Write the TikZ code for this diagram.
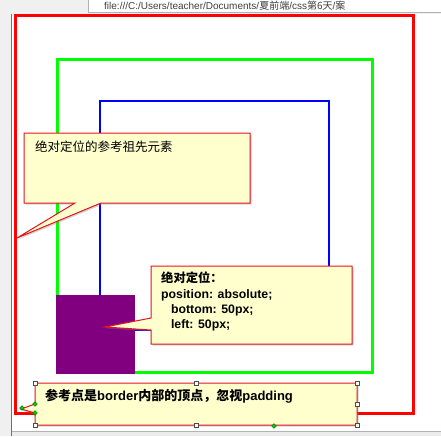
\documentclass[tikz,border=0pt]{standalone}
\usepackage{fontspec}
\setmainfont{Liberation Sans}
\newfontfamily\cjk{Noto Sans CJK SC}
\usetikzlibrary{positioning,shapes.geometric,shadows}

\definecolor{noteyellow}{RGB}{255,255,206}
\definecolor{notered}{RGB}{226,20,30}
\definecolor{boxpurple}{RGB}{128,0,128}
\definecolor{chromeline}{RGB}{96,112,152}

\newcommand\zh[1]{{\cjk #1}}

\tikzset{
    note/.style={draw=notered, fill=noteyellow, line width=1pt, line join=miter,
        drop shadow={shadow xshift=1.5pt, shadow yshift=-1.5pt, opacity=0.35}},
    notetext/.style={anchor=north west, inner sep=0pt, align=left},
    handle/.style={rectangle, draw=black!70, fill=white, minimum size=4.5pt, inner sep=0pt, line width=0.5pt},
    grip/.style={diamond, draw=green!40!black, fill=green!80!black, minimum size=5pt, inner sep=0pt, line width=0.4pt}
}

\begin{document}
\begin{tikzpicture}[x=1pt, y=-1pt]
    \useasboundingbox (0,0) rectangle (441,436);
    % browser window round the page
    \fill[gray!12] (0,0) rectangle (441,14);
    \draw[gray!60, fill=white] (88,-3) rectangle (445,12.5);
    \node[anchor=base west, inner sep=0pt, text=black!75, font=\fontsize{10}{12}\selectfont] (address) at (104,10)
        {file:///C:/Users/teacher/Documents/\zh{夏前端}/css\zh{第6天}/\zh{案}};
    \fill[gray!12] (0,14) rectangle (11,436);
    \draw[chromeline, line width=1.5pt] (11.5,14) -- (11.5,436);
    \fill[gray!15] (12,432) rectangle (441,436);
    \draw[gray!60] (12,431.5) -- (441,431.5);

    % the three boxes
    \draw[red, line width=3pt] (15,16) rectangle (413,413);
    \draw[green, line width=3pt] (57,59) rectangle (372,372);
    \draw[blue, line width=2.5pt] (100,101) rectangle (329,330);
    \fill[boxpurple] (56,295) rectangle (135,373.5);

    % callouts
    \coordinate (ancestor) at (24,133);
    \draw[note] (ancestor) -- (250,133) -- (250,203) -- (101,203) -- (17,238) -- (75,203) -- (24,203) -- cycle;
    \node[notetext, below right=8pt and 11pt of ancestor, font=\fontsize{12.5}{15}\selectfont] (ancestortext)
        {\zh{绝对定位的参考祖先元素}};

    \coordinate (rule) at (151,266);
    \draw[note] (rule) -- (352,266) -- (352,344) -- (151,344) -- (151,330) -- (105,327) -- (151,318) -- cycle;
    \node[notetext, below right=6pt and 10pt of rule, font=\bfseries\fontsize{12.3}{15.3}\selectfont] (ruletext)
        {\zh{\bfseries 绝对定位：}\\position: absolute;\\\hspace*{0.8em}bottom: 50px;\\\hspace*{0.8em}left: 50px;};

    \coordinate (origin) at (35,383);
    \draw[note] (origin) -- (357,383) -- (357,425) -- (35,425) -- (35,413) -- (21,409) -- (35,404) -- cycle;
    \node[notetext, below right=6pt and 10pt of origin, font=\bfseries\fontsize{13}{15}\selectfont] (origintext)
        {\zh{\bfseries 参考点是}border\zh{\bfseries 内部的顶点，忽视}padding};

    % selection handles of the last callout
    \foreach \hx/\hy [count=\i] in {35/383, 196/383, 357/383, 357/404, 35/425, 196/425, 357/425}
        \node[handle] (h\i) at (\hx,\hy) {};
    \foreach \gx/\gy [count=\i] in {35/404, 35/413, 22/408, 274/426}
        \node[grip] (g\i) at (\gx,\gy) {};
\end{tikzpicture}
\end{document}
